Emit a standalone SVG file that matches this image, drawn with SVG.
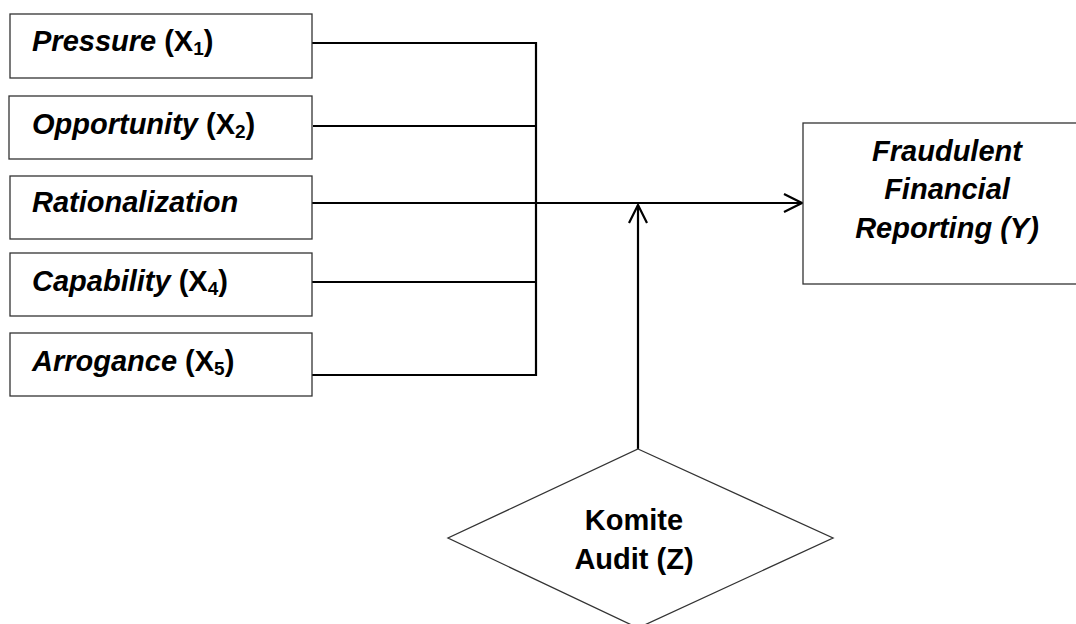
<svg xmlns="http://www.w3.org/2000/svg" width="1076" height="624" viewBox="0 0 1076 624">
<style>
.box{fill:#fff;stroke:#333;stroke-width:1.3}
.t{font-family:"Liberation Sans",Arial,sans-serif;font-size:29px;font-weight:bold;fill:#000}
.i{font-style:italic}
.sub{font-size:19px}
.c{stroke:#000;stroke-width:2.2;fill:none}
</style>
<defs>
<marker id="ah" viewBox="0 0 20 20" refX="19" refY="10" markerWidth="20" markerHeight="20" markerUnits="userSpaceOnUse" orient="auto">
<path d="M1,1 L19,10 L1,19" fill="none" stroke="#000" stroke-width="2.2"/>
</marker>
</defs>
<g id="connectors">
<path class="c" d="M312,43 H537 M313,126 H537 M312,282 H537 M312,375 H537 M536,42 V376"/>
<path class="c" d="M312,203 H802" marker-end="url(#ah)"/>
<path class="c" d="M638,449 V205" marker-end="url(#ah)"/>
</g>
<g id="pressure">
<rect class="box" x="10" y="14" width="302" height="64"/>
<text class="t" x="32" y="51"><tspan class="i">Pressure</tspan> (X<tspan class="sub" dy="4">1</tspan><tspan dy="-4">)</tspan></text>
</g>
<g id="opportunity">
<rect class="box" x="9" y="96" width="303" height="63"/>
<text class="t" x="32" y="134"><tspan class="i">Opportunity</tspan> (X<tspan class="sub" dy="4">2</tspan><tspan dy="-4">)</tspan></text>
</g>
<g id="rationalization">
<rect class="box" x="10" y="176" width="302" height="63"/>
<text class="t i" x="32" y="212">Rationalization</text>
</g>
<g id="capability">
<rect class="box" x="10" y="253" width="302" height="63"/>
<text class="t" x="32" y="291"><tspan class="i">Capability</tspan> (X<tspan class="sub" dy="4">4</tspan><tspan dy="-4">)</tspan></text>
</g>
<g id="arrogance">
<rect class="box" x="10" y="333" width="302" height="63"/>
<text class="t" x="32" y="371"><tspan class="i">Arrogance</tspan> (X<tspan class="sub" dy="4">5</tspan><tspan dy="-4">)</tspan></text>
</g>
<g id="fraudulent">
<rect class="box" x="803" y="123" width="290" height="161"/>
<text class="t i" text-anchor="middle" x="947" y="161">Fraudulent</text>
<text class="t i" text-anchor="middle" x="947" y="199">Financial</text>
<text class="t i" text-anchor="middle" x="947" y="238">Reporting (Y)</text>
</g>
<g id="komite">
<polygon class="box" points="638,449 833,538 638,628 448,538"/>
<text class="t" text-anchor="middle" x="634" y="530">Komite</text>
<text class="t" text-anchor="middle" x="634" y="569">Audit (Z)</text>
</g>
</svg>
